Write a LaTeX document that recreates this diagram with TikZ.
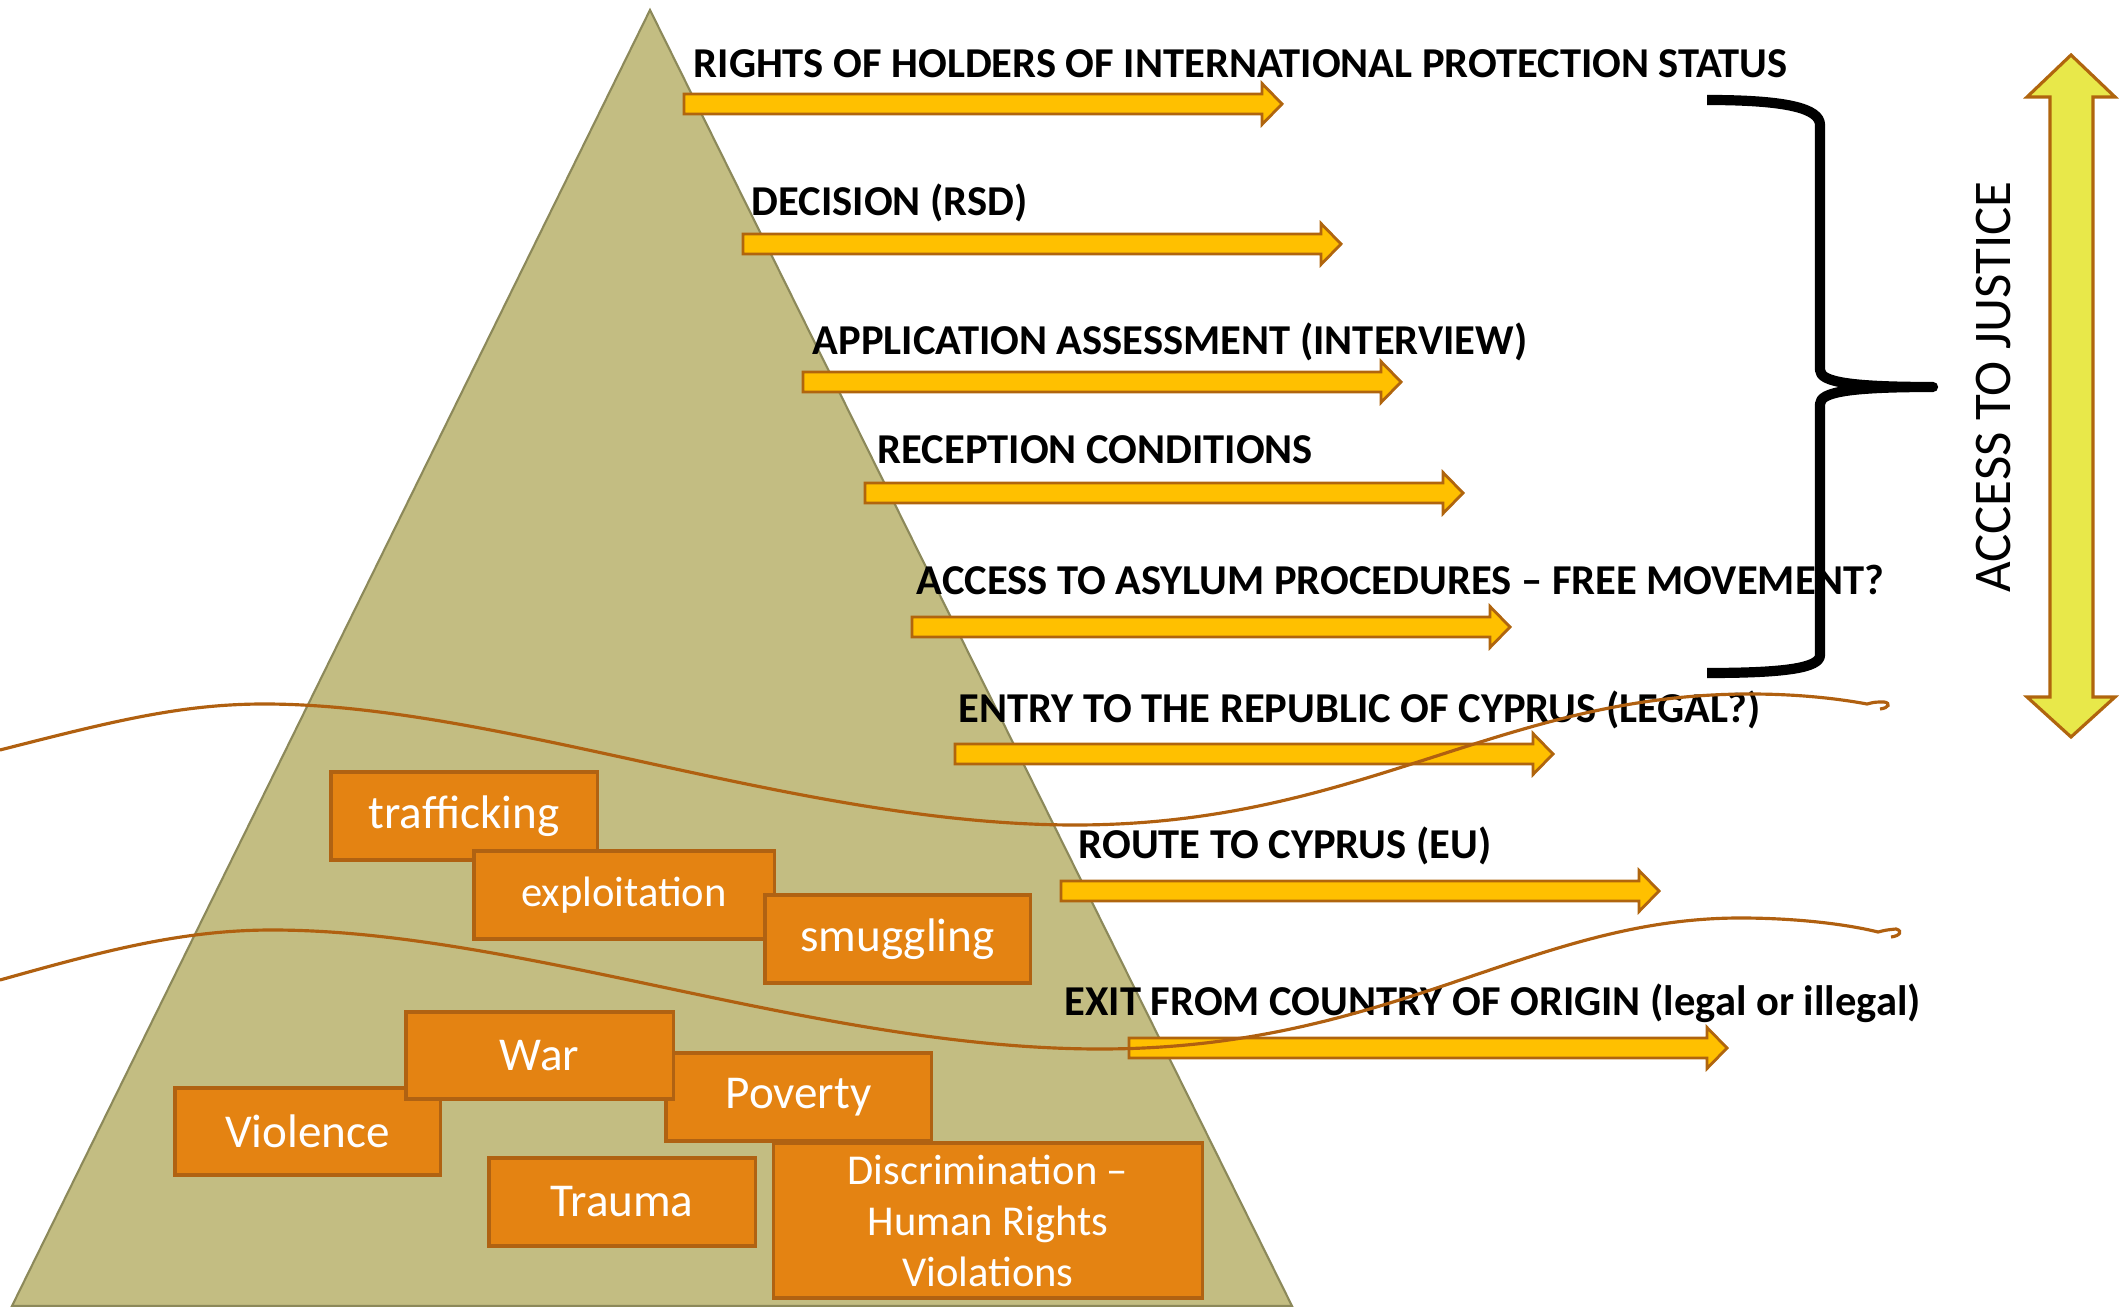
\documentclass[tikz,border=0pt]{standalone}
\usepackage{fontspec}
\setmainfont{Carlito}
\definecolor{trifill}{RGB}{195,189,130}
\definecolor{tridraw}{RGB}{140,137,90}
\definecolor{boxfill}{RGB}{228,131,18}
\definecolor{boxdraw}{RGB}{176,98,18}
\definecolor{arrfill}{RGB}{255,192,0}
\definecolor{arrdraw}{RGB}{176,101,14}
\definecolor{wavecol}{RGB}{176,96,16}
\definecolor{dblfill}{RGB}{232,232,74}
\newcommand{\flowarrow}[3]{%
  \coordinate (#1) at (#2,#3);
  \draw[arrsty] (#1) ++(0,-10) -- ++(578,0) -- ++(0,-10.5) -- ++(20,20.5)
    -- ++(-20,20.5) -- ++(0,-10.5) -- ++(-578,0) -- cycle;}
\begin{document}
\begin{tikzpicture}[x=0.01cm,y=-0.01cm,
  tri/.style={fill=trifill,draw=tridraw,line width=0.6pt,line join=miter},
  boxsty/.style={fill=boxfill,draw=boxdraw,line width=0.9pt,text=white,
    font=\fontsize{13.4}{14.5}\selectfont,inner sep=0pt,align=center},
  smallbox/.style={font=\fontsize{12.1}{14.5}\selectfont},
  arrsty/.style={fill=arrfill,draw=arrdraw,line width=0.8pt,line join=miter},
  lbl/.style={anchor=base west,inner sep=0pt,font=\bfseries\fontsize{12.1}{14}\selectfont},
  wave/.style={draw=wavecol,line width=0.9pt},
  bracesty/.style={draw=black,line width=2.9pt,line join=round},
  dblsty/.style={fill=dblfill,draw=arrdraw,line width=0.9pt,line join=miter}]
\useasboundingbox (0,0) rectangle (2119,1307);
% pyramid
\path[tri] (650,10) -- (1292,1306) -- (12,1306) -- cycle;
% boxes
\node[boxsty,minimum width=2.66cm,minimum height=0.88cm] (traf) at (464,816) {trafficking};
\node[boxsty,smallbox,minimum width=3.00cm,minimum height=0.88cm] (expl) at (624,895) {exploitation};
\node[boxsty,minimum width=2.65cm,minimum height=0.88cm] (smug) at (897.5,939) {smuggling};
\node[boxsty,minimum width=2.65cm,minimum height=0.87cm] (viol) at (307.5,1131.5) {Violence};
\node[boxsty,minimum width=2.65cm,minimum height=0.88cm] (pov) at (798.5,1097) {Poverty};
\node[boxsty,minimum width=2.67cm,minimum height=0.87cm] (war) at (539.5,1055.5) {War};
\node[boxsty,minimum width=2.66cm,minimum height=0.88cm] (trau) at (622,1202) {Trauma};
\node[boxsty,smallbox,minimum width=4.28cm,minimum height=1.55cm] (disc) at (988,1220.5) {Discrimination –\\Human Rights\\Violations};
% arrows
\flowarrow{a1}{684}{104}
\flowarrow{a2}{743}{244}
\flowarrow{a3}{803}{382}
\flowarrow{a4}{865}{493}
\flowarrow{a5}{912}{627}
\flowarrow{a6}{955}{754}
\flowarrow{a7}{1061}{891}
\flowarrow{a8}{1129}{1048}
% labels
\node[lbl] (l1) at (693,78) {RIGHTS OF HOLDERS OF INTERNATIONAL PROTECTION STATUS};
\node[lbl] (l2) at (751,216) {DECISION (RSD)};
\node[lbl] (l3) at (812,355) {APPLICATION ASSESSMENT (INTERVIEW)};
\node[lbl] (l4) at (877,464) {RECEPTION CONDITIONS};
\node[lbl] (l5) at (916,595) {ACCESS TO ASYLUM PROCEDURES – FREE MOVEMENT?};
\node[lbl] (l6) at (958,722) {ENTRY TO THE REPUBLIC OF CYPRUS (LEGAL?)};
\node[lbl] (l7) at (1078,858) {ROUTE TO CYPRUS (EU)};
\node[lbl] (l8) at (1064,1015) {EXIT FROM COUNTRY OF ORIGIN (legal or illegal)};
% wave lines
\draw[wave] (0,750) .. controls (110,722) and (180,704) .. (264,704)
  .. controls (500,704) and (800,825) .. (1075,825)
  .. controls (1360,825) and (1500,694) .. (1750,694)
  .. controls (1800,694) and (1840,699) .. (1867,704)
  .. controls (1875,702) .. (1884,702) .. controls (1891,703) and (1889,708) .. (1880,709);
\draw[wave] (0,980) .. controls (100,952) and (180,930) .. (272,930)
  .. controls (520,930) and (820,1049) .. (1100,1049)
  .. controls (1390,1049) and (1530,918) .. (1740,918)
  .. controls (1800,918) and (1850,925) .. (1878,932)
  .. controls (1886,930) .. (1896,929) .. controls (1903,931) and (1900,936) .. (1891,937);
% brace
\draw[bracesty] (1707,100) .. controls (1785,100) and (1820,108) .. (1820,125)
  -- (1820,370) .. controls (1820,382) and (1850,387) .. (1933,387)
  .. controls (1850,387) and (1820,392) .. (1820,404)
  -- (1820,655) .. controls (1820,668) and (1785,673) .. (1707,673);
% double arrow
\draw[dblsty] (2071,55) -- (2115,97) -- (2093,97) -- (2093,697) -- (2115,697)
  -- (2071,737) -- (2027,697) -- (2050,697) -- (2050,97) -- (2027,97) -- cycle;
\node[rotate=90,inner sep=0pt,font=\fontsize{15.05}{18}\selectfont] (acc) at (1993,387) {ACCESS TO JUSTICE};
\end{tikzpicture}
\end{document}
